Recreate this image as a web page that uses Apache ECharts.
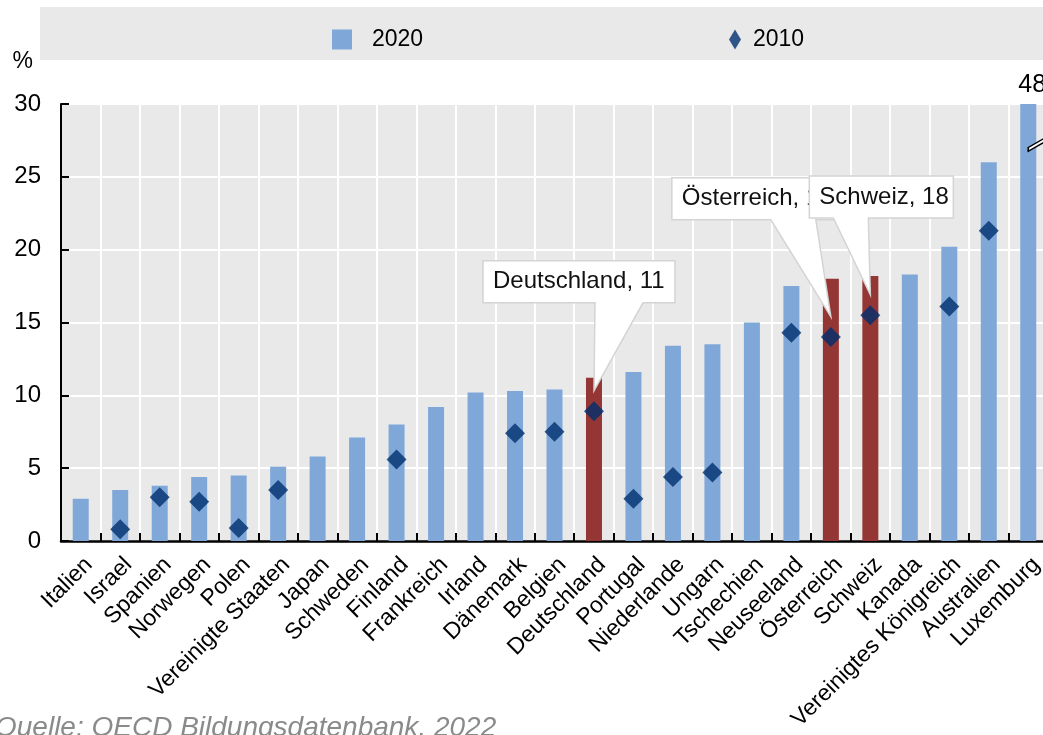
<!DOCTYPE html>
<html>
<head>
<meta charset="utf-8">
<script src="https://cdn.jsdelivr.net/npm/echarts@6/dist/echarts.min.js"></script>
<style>
html,body{margin:0;padding:0;background:#fff;}
#c{width:1043px;height:735px;}
</style>
</head>
<body>
<div id="c"></div>
<script>
const categories = ['Italien','Israel','Spanien','Norwegen','Polen','Vereinigte Staaten','Japan','Schweden','Finland','Frankreich','Irland','Dänemark','Belgien','Deutschland','Portugal','Niederlande','Ungarn','Tschechien','Neuseeland','Österreich','Schweiz','Kanada','Vereinigtes Königreich','Australien','Luxemburg'];
const values2020 = [2.9,3.5,3.8,4.4,4.5,5.1,5.8,7.1,8.0,9.2,10.2,10.3,10.4,11.2,11.6,13.4,13.5,15.0,17.5,18.0,18.2,18.3,20.2,26.0,48];
const values2010 = [null,0.8,3.0,2.7,0.9,3.5,null,null,5.6,null,null,7.4,7.5,8.9,2.9,4.4,4.7,null,14.3,14.0,15.5,null,16.1,21.3,null];
const highlighted = ['Deutschland','Österreich','Schweiz'];
const yTicks = [0,5,10,15,20,25,30];
const seriesNames = ['2020','2010'];
const sourceText = 'Quelle: OECD Bildungsdatenbank, 2022';

const AXIS_MAX = 30;
const BREAK_AT = 27.2;
const FONT = "'Liberation Sans',Arial,sans-serif";
const BLUE = '#7fa8d9', RED = '#943634', NAVY = '#00306e', BG = '#e9e9e9';

// callout layout (pixel offsets relative to pointer tip)
const calloutLayout = [
  {country:'Deutschland', tipDown:13, boxDx:-111, boxDy:-130, w:192, h:42, b1:1, b2:49},
  {country:'Österreich', tipDown:38, boxDx:-159, boxDy:-139, w:168, h:42, b1:-60, b2:-15},
  {country:'Schweiz', tipDown:19, boxDx:-61, boxDy:-119, w:144, h:42, b1:-37, b2:-2}
];

const chart = echarts.init(document.getElementById('c'));

const barData = values2020.map((v,i)=>{
  const d = {value: Math.min(v, AXIS_MAX)};
  if (highlighted.includes(categories[i])) d.itemStyle = {color: RED};
  if (v > AXIS_MAX) d.label = {show:true, position:'top', distance:6, offset:[4,0], formatter: String(v), fontFamily:FONT, fontSize:25, color:'#000'};
  return d;
});

const option = {
  animation:false,
  title:{text:sourceText, left:-5, top:714, padding:0, textStyle:{fontFamily:FONT, fontStyle:'italic', fontWeight:'normal', fontSize:28, color:'#8a8a8a'}},
  legend:[
    {data:[{name:seriesNames[0], icon:'rect'}], left:332, top:28, padding:0, itemWidth:20, itemHeight:20, textStyle:{fontFamily:FONT, fontSize:23, color:'#000', padding:[0,0,0,15]}},
    {data:[{name:seriesNames[1], icon:'path://M6,0 L12,10 L6,20 L0,10 Z'}], left:729, top:28, padding:0, itemWidth:20, itemHeight:20, textStyle:{fontFamily:FONT, fontSize:23, color:'#000', padding:[0,0,0,3]}}
  ],
  grid:{left:61, top:104, right:-5, bottom:194, outerBoundsMode:'none', containLabel:false, show:true, backgroundColor:BG, borderWidth:0},
  xAxis:{
    type:'category', data:categories, boundaryGap:true,
    axisLine:{lineStyle:{color:'#000', width:2.5}},
    axisTick:{show:true, inside:true, length:8, lineStyle:{color:'#000', width:2}},
    splitLine:{show:true, interval:0, lineStyle:{color:'#fff', width:2}},
    axisLabel:{interval:0, rotate:45, margin:12, verticalAlign:'top', fontFamily:FONT, fontSize:23, color:'#000'}
  },
  yAxis:{
    type:'value', min:yTicks[0], max:yTicks[yTicks.length-1], interval:yTicks[1]-yTicks[0],
    name:'%', nameLocation:'end', nameGap:31,
    nameTextStyle:{fontFamily:FONT, fontSize:23, color:'#000', align:'right', verticalAlign:'bottom', padding:[0,28,0,0]},
    axisLine:{show:true, lineStyle:{color:'#000', width:2}},
    axisTick:{show:true, inside:true, length:8, lineStyle:{color:'#000', width:2}},
    splitLine:{show:true, lineStyle:{color:'#fff', width:2}},
    axisLabel:{margin:20, fontFamily:FONT, fontSize:24, color:'#000'}
  },
  series:[
    {name:seriesNames[0], type:'bar', data:barData, barWidth:16, itemStyle:{color:BLUE},
     markPoint:{silent:true, data:[{coord:[categories[categories.length-1], BREAK_AT], symbol:'path://M0,12 L20,0 L20,5 L0,17 Z', symbolSize:[16,13], symbolOffset:[8,0], symbolKeepAspect:false, label:{show:false}, itemStyle:{color:'#fff', borderColor:'#000', borderWidth:1.5}}]}
    },
    {name:seriesNames[1], type:'scatter', data:values2010, symbol:'diamond', symbolSize:20, itemStyle:{color:NAVY}, z:5}
  ]
};
chart.setOption(option);

const graphics = [
  {type:'rect', shape:{x:40, y:7, width:1010, height:53}, style:{fill:BG}, z:-10, silent:true}
];
calloutLayout.forEach((c,k)=>{
  const idx = categories.indexOf(c.country);
  const val = values2020[idx];
  const p = chart.convertToPixel({xAxisIndex:0, yAxisIndex:0}, [c.country, val]);
  const tx = p[0], ty = p[1] + c.tipDown;
  const L = tx + c.boxDx, T = ty + c.boxDy, R = L + c.w, B = T + c.h;
  graphics.push({type:'polygon', z:100 + k*2, silent:true,
    shape:{points:[[L,T],[R,T],[R,B],[tx+c.b2,B],[tx,ty],[tx+c.b1,B],[L,B]]},
    style:{fill:'#fff', stroke:'#d4d4d4', lineWidth:1.5}});
  graphics.push({type:'text', z:101 + k*2, silent:true, x:L+10, y:T+c.h/2,
    style:{text:c.country + ', ' + Math.round(val), font:"24px " + FONT, fill:'#111', verticalAlign:'middle'}});
});
chart.setOption({graphic:graphics});
</script>
</body>
</html>
